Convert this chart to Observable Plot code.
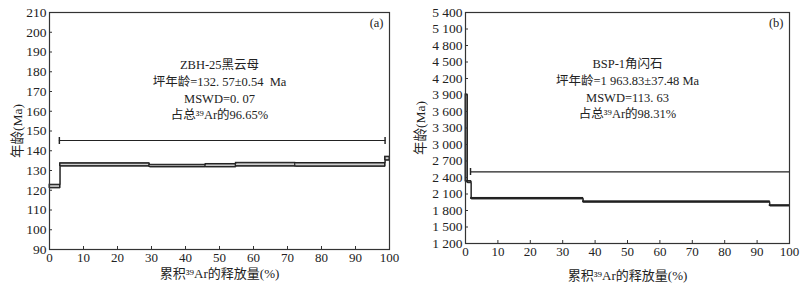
<!DOCTYPE html>
<html>
<head>
<meta charset="utf-8">
<script src="https://cdn.jsdelivr.net/npm/d3@7"></script>
<script src="https://cdn.jsdelivr.net/npm/@observablehq/plot@0.6"></script>
<style>
  html, body { margin: 0; padding: 0; background: #fff; }
  #wrap { position: relative; width: 807px; height: 286px; overflow: hidden; }
  #wrap > div { position: absolute; top: 0; }
  svg, svg text, svg g { font-family: "Liberation Serif", "Times New Roman", "Noto Sans CJK SC", serif !important; }
</style>
</head>
<body>
<div id="wrap"><div id="pa" style="left:0"></div><div id="pb" style="left:400px"></div></div>
<script>
// ---- Panel (a) data: ZBH-25 biotite age spectrum ----
const aX0 = [0, 3.1, 29.4, 45.9, 54.8, 72.3, 98.7];
const aX1 = [3.1, 29.4, 45.9, 54.8, 72.3, 98.7, 100];
const aLo = [121.2, 132.2, 131.8, 131.8, 132.2, 132.1, 135.2];
const aHi = [122.8, 133.7, 132.9, 133.3, 133.9, 133.8, 137.0];
const aPlateauX = [2.9, 98.7];
const aPlateauY = 145.2;
const aTicksX = [0, 10, 20, 30, 40, 50, 60, 70, 80, 90, 100];
const aTicksY = [90, 100, 110, 120, 130, 140, 150, 160, 170, 180, 190, 200, 210];
const aNote = ["ZBH-25黑云母", "坪年龄=132. 57±0.54  Ma", "MSWD=0. 07", "占总³⁹Ar的96.65%"];

// ---- Panel (b) data: BSP-1 hornblende age spectrum ----
const bX0 = [0, 0.6, 1.75, 36.3, 93.9];
const bX1 = [0.6, 1.75, 36.3, 93.9, 100];
const bLo = [2330, 2305, 2010, 1950, 1882];
const bHi = [3910, 2335, 2028, 1966, 1896];
const bPlateauX = [1.55, 100];
const bPlateauY = 2504;
const bTicksX = [0, 10, 20, 30, 40, 50, 60, 70, 80, 90, 100];
const bTicksY = [1200, 1500, 1800, 2100, 2400, 2700, 3000, 3300, 3600, 3900, 4200, 4500, 4800, 5100, 5400];
const bNote = ["BSP-1角闪石", "坪年龄=1 963.83±37.48 Ma", "MSWD=113. 63", "占总³⁹Ar的98.31%"];

const xLabel = "累积³⁹Ar的释放量(%)";
const yLabel = "年龄(Ma)";

const rows = (x0, x1, lo, hi) => x0.map((d, i) => ({x0: d, x1: x1[i], lo: lo[i], hi: hi[i]}));
const fmtB = d => d >= 1000 ? `${Math.floor(d / 1000)} ${String(d % 1000).padStart(3, "0")}` : String(d);
// step outline points: each step start, plus final end point
const stepPts = (data, key) => [...data.map(d => [d.x0, d[key]]), [data[data.length - 1].x1, data[data.length - 1][key]]];

function panel(o) {
  return Plot.plot({
    width: o.width, height: 286,
    marginLeft: o.ml, marginRight: o.mr, marginTop: 12, marginBottom: o.mb,
    style: {fontFamily: "Liberation Serif, serif", fontSize: "13px", color: "#222", background: "#fff"},
    x: {domain: [0, 100]},
    y: {domain: o.yDomain},
    marks: [
      Plot.rect(o.data, {x1: "x0", x2: "x1", y1: "lo", y2: "hi", fill: "#cfcfcf", stroke: "#222", strokeWidth: 1}),
      Plot.line(stepPts(o.data, "hi"), {curve: "step-after", stroke: "#222", strokeWidth: 1}),
      Plot.line(stepPts(o.data, "lo"), {curve: "step-after", stroke: "#222", strokeWidth: 1}),
      Plot.line([[o.px[0], o.py], [o.px[1], o.py]], {stroke: "#222", strokeWidth: 1.2, markerStart: "tick", markerEnd: o.endTick ? "tick" : "none"}),
      Plot.frame({stroke: "#333", strokeWidth: 1.2}),
      Plot.axisX(o.tx, {tickSize: -3, text: null, label: null, stroke: "#333"}),
      Plot.axisX(o.tx, {tickSize: 0, tickPadding: 3, fontSize: 13, label: xLabel, labelAnchor: "center", labelOffset: o.xlo, labelArrow: "none"}),
      Plot.axisY(o.ty, {tickSize: -3, text: null, label: null, stroke: "#333"}),
      Plot.axisY(o.ty, {tickSize: 0, tickPadding: 3, fontSize: 13.5, tickFormat: o.fmt, label: yLabel, labelAnchor: "center", labelOffset: o.ylo, labelArrow: "none"}),
      Plot.text([o.note.join("\n")], {frameAnchor: "top", dy: o.ndy, lineHeight: 1.33, fontSize: 12.5, fill: "#222"}),
      Plot.text([o.tag], {frameAnchor: "top-right", dx: -6, dy: 6, fontSize: 12.5, fill: "#222"})
    ]
  });
}

document.getElementById("pa").append(panel({
  width: 400, ml: 49, mr: 11, mb: 37,
  yDomain: [90, 210], data: rows(aX0, aX1, aLo, aHi),
  px: aPlateauX, py: aPlateauY, endTick: true,
  tx: aTicksX, ty: aTicksY, fmt: d => String(d),
  note: aNote, ndy: 45, tag: "(a)", xlo: 28, ylo: 37
}));

document.getElementById("pb").append(panel({
  width: 407, ml: 65, mr: 18, mb: 43,
  yDomain: [1200, 5400], data: rows(bX0, bX1, bLo, bHi),
  px: bPlateauX, py: bPlateauY, endTick: false,
  tx: bTicksX, ty: bTicksY, fmt: fmtB,
  note: bNote, ndy: 44, tag: "(b)", xlo: 36, ylo: 50
}));
</script>
</body>
</html>
